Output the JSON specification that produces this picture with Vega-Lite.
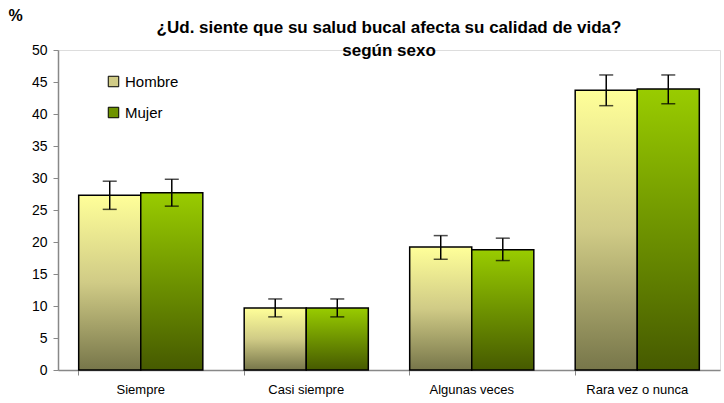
{
  "$schema": "https://vega.github.io/schema/vega-lite/v6.json",
  "width": 662,
  "height": 320,
  "autosize": {"type": "none"},
  "padding": {"left": 58, "top": 50, "right": 4, "bottom": 33},
  "background": "white",
  "title": {
    "text": ["¿Ud. siente que su salud bucal afecta su calidad de vida?", "según sexo"],
    "font": "Liberation Sans",
    "fontSize": 17,
    "fontWeight": "bold",
    "color": "black",
    "anchor": "middle",
    "lineHeight": 23,
    "offset": -53
  },
  "config": {
    "axisY": {
      "titleAngle": 0,
      "titleX": -50,
      "titleY": -27,
      "titleAlign": "left",
      "titleFont": "Liberation Sans",
      "titleFontSize": 16,
      "titleFontWeight": "bold",
      "titleColor": "black",
      "labelOverlap": false,
      "labelFont": "Liberation Sans",
      "labelFontSize": 14,
      "labelColor": "black",
      "labelPadding": 6,
      "tickColor": "#888888",
      "tickSize": 5,
      "domainColor": "#888888",
      "domainWidth": 1.5,
      "grid": false
    }
  },
  "data": {
    "values": [
      {"categoria": "Siempre", "sexo": "Hombre", "valor": 27.3, "lo": 25.1, "hi": 29.5},
      {"categoria": "Siempre", "sexo": "Mujer", "valor": 27.7, "lo": 25.6, "hi": 29.8},
      {"categoria": "Casi siempre", "sexo": "Hombre", "valor": 9.7, "lo": 8.3, "hi": 11.1},
      {"categoria": "Casi siempre", "sexo": "Mujer", "valor": 9.7, "lo": 8.3, "hi": 11.1},
      {"categoria": "Algunas veces", "sexo": "Hombre", "valor": 19.2, "lo": 17.3, "hi": 21.0},
      {"categoria": "Algunas veces", "sexo": "Mujer", "valor": 18.8, "lo": 17.1, "hi": 20.6},
      {"categoria": "Rara vez o nunca", "sexo": "Hombre", "valor": 43.7, "lo": 41.3, "hi": 46.1},
      {"categoria": "Rara vez o nunca", "sexo": "Mujer", "valor": 43.9, "lo": 41.6, "hi": 46.1}
    ]
  },
  "encoding": {
    "x": {
      "field": "categoria",
      "type": "nominal",
      "sort": ["Siempre", "Casi siempre", "Algunas veces", "Rara vez o nunca"],
      "scale": {"paddingInner": 0.25, "paddingOuter": 0.125},
      "axis": {
        "title": null,
        "labelAngle": 0,
        "labelFont": "Liberation Sans",
        "labelFontSize": 13,
        "labelColor": "black",
        "labelPadding": 8,
        "bandPosition": 0,
        "tickColor": "#888888",
        "tickSize": 5,
        "domainColor": "#888888",
        "domainWidth": 1.5,
        "grid": false
      }
    },
    "xOffset": {"field": "sexo", "type": "nominal"}
  },
  "layer": [
    {
      "mark": {"type": "bar", "stroke": "black", "strokeWidth": 1.5},
      "encoding": {
        "y": {
          "field": "valor",
          "type": "quantitative",
          "scale": {"domain": [0, 50]},
          "axis": {"title": "%", "values": [0, 5, 10, 15, 20, 25, 30, 35, 40, 45, 50]}
        },
        "fill": {
          "condition": [
            {"test": "datum.sexo === 'Hombre'", "value": {"gradient": "linear", "x1": 0, "y1": 0, "x2": 0, "y2": 1,
               "stops": [{"offset": 0, "color": "#FFFF99"}, {"offset": 0.5, "color": "#D0CB86"}, {"offset": 1, "color": "#77764A"}]}},
            {"test": "datum.sexo === 'Mujer'", "value": {"gradient": "linear", "x1": 0, "y1": 0, "x2": 0, "y2": 1,
               "stops": [{"offset": 0, "color": "#99CC00"}, {"offset": 0.5, "color": "#6E9300"}, {"offset": 1, "color": "#465A00"}]}}
          ],
          "field": "sexo",
          "type": "nominal",
          "scale": {"domain": ["Hombre", "Mujer"], "range": ["#D0CB86", "#6E9300"]},
          "legend": {
            "title": null,
            "orient": "none",
            "legendX": 48,
            "legendY": 24,
            "symbolType": "square",
            "symbolSize": 110,
            "symbolStrokeColor": "black",
            "symbolStrokeWidth": 1,
            "symbolOpacity": 1,
            "labelFont": "Liberation Sans",
            "labelFontSize": 15,
            "labelColor": "black",
            "labelOffset": 4,
            "rowPadding": 15,
            "encode": {
              "symbols": {
                "update": {
                  "fill": [
                    {"test": "datum.value === 'Hombre'", "value": {"gradient": "linear", "x1": 0, "y1": 0, "x2": 0, "y2": 1,
                      "stops": [{"offset": 0, "color": "#FFFF99"}, {"offset": 1, "color": "#77764A"}]}},
                    {"value": {"gradient": "linear", "x1": 0, "y1": 0, "x2": 0, "y2": 1,
                      "stops": [{"offset": 0, "color": "#99CC00"}, {"offset": 1, "color": "#465A00"}]}}
                  ],
                  "stroke": {"value": "black"},
                  "opacity": {"value": 1}
                }
              }
            }
          }
        }
      }
    },
    {
      "mark": {"type": "rule", "color": "black", "strokeWidth": 1.5},
      "encoding": {
        "y": {"field": "lo", "type": "quantitative", "axis": {"title": "%", "values": [0, 5, 10, 15, 20, 25, 30, 35, 40, 45, 50]}},
        "y2": {"field": "hi"}
      }
    },
    {
      "mark": {"type": "tick", "color": "black", "thickness": 1.5, "size": 14},
      "encoding": {"y": {"field": "lo", "type": "quantitative", "axis": {"title": "%", "values": [0, 5, 10, 15, 20, 25, 30, 35, 40, 45, 50]}}}
    },
    {
      "mark": {"type": "tick", "color": "black", "thickness": 1.5, "size": 14},
      "encoding": {"y": {"field": "hi", "type": "quantitative", "axis": {"title": "%", "values": [0, 5, 10, 15, 20, 25, 30, 35, 40, 45, 50]}}}
    }
  ]
}
